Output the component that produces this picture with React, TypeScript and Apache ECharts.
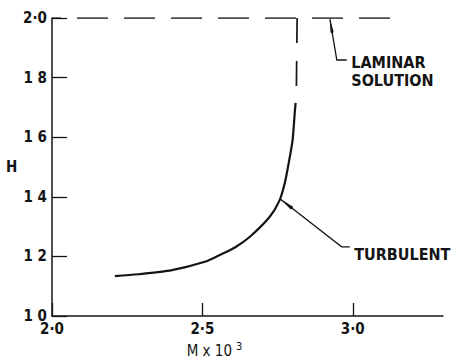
import React, { useEffect, useRef } from "react";
import * as echarts from "echarts";

// Turbulent solution curve (M x 10^3, H)
const turbulentM = [2.209, 2.286, 2.399, 2.508, 2.558, 2.608, 2.658, 2.724, 2.757, 2.774, 2.787, 2.8, 2.807, 2.81];
const turbulentH = [1.134, 1.14, 1.154, 1.182, 1.205, 1.23, 1.266, 1.333, 1.389, 1.446, 1.513, 1.591, 1.681, 1.715];

// Laminar solution (dashed): horizontal at H = 2 and the drop to the turbulent branch
const laminarM = [2.0, 3.15];
const laminarH = [2.0, 2.0];
const jumpM = [2.815, 2.812];
const jumpH = [2.0, 1.715];

// Axis ticks and labels
const xTickValues = [2.0, 2.5, 3.0];
const xTickLabels = ["2·0", "2·5", "3·0"];
const yTickValues = [1.0, 1.2, 1.4, 1.6, 1.8, 2.0];
const yTickLabels = ["1 0", "1 2", "1 4", "1 6", "1 8", "2·0"];

// Annotation anchors (data coordinates)
const turbLeaderM = [2.76, 2.963, 2.99];
const turbLeaderH = [1.392, 1.232, 1.232];
const turbTextAt = [3.005, 1.206];
const lamLeaderM = [2.924, 2.947, 2.98];
const lamLeaderH = [1.996, 1.859, 1.859];
const lamText1At = [2.995, 1.852];
const lamText2At = [2.995, 1.79];

const INK = "#141414";
const FONT = "DejaVu Sans Condensed, DejaVu Sans, sans-serif";

const zip = (a: number[], b: number[]) => a.map((v, i) => [v, b[i]]);

export default function App() {
  const ref = useRef<HTMLDivElement>(null);
  useEffect(() => {
    const chart = echarts.init(ref.current!, null, { renderer: "svg" });
    chart.setOption({
      animation: false,
      backgroundColor: "#ffffff",
      grid: { left: 52, right: 13, top: 18, bottom: 43, containLabel: false, outerBoundsMode: "none" },
      xAxis: {
        type: "value",
        min: 2.0,
        max: 3.3,
        interval: 0.5,
        name: "{a|M x 10}{b|3}",
        nameLocation: "middle",
        nameGap: 21,
        nameTextStyle: {
          padding: [0, 66, 0, 0],
          rich: {
            a: { fontFamily: FONT, fontSize: 15, color: INK, lineHeight: 18, verticalAlign: "bottom" },
            b: { fontFamily: FONT, fontSize: 11, color: INK, lineHeight: 11, verticalAlign: "top", padding: [0, 0, 0, 4] },
          },
        },
        splitLine: { show: false },
        axisLine: { show: true, lineStyle: { color: INK, width: 1.5 } },
        axisTick: { show: true, inside: true, length: 13, customValues: xTickValues, lineStyle: { color: INK, width: 1.3 } },
        axisLabel: {
          customValues: xTickValues,
          formatter: (v: number) => {
            const i = xTickValues.findIndex((t) => Math.abs(t - v) < 1e-6);
            return i >= 0 ? xTickLabels[i] : "";
          },
          margin: 5,
          fontFamily: FONT,
          fontWeight: "bold",
          fontSize: 15,
          color: INK,
        },
      },
      yAxis: {
        type: "value",
        min: 1.0,
        max: 2.0,
        interval: 0.2,
        name: "H",
        nameLocation: "middle",
        nameRotate: 0,
        nameGap: 33,
        nameTextStyle: { fontFamily: FONT, fontWeight: "bold", fontSize: 15, color: INK },
        splitLine: { show: false },
        axisLine: { show: true, lineStyle: { color: INK, width: 1.5 } },
        axisTick: { show: true, inside: true, length: 15, customValues: yTickValues, lineStyle: { color: INK, width: 1.3 } },
        axisLabel: {
          customValues: yTickValues,
          formatter: (v: number) => {
            const i = yTickValues.findIndex((t) => Math.abs(t - v) < 1e-6);
            return i >= 0 ? yTickLabels[i] : "";
          },
          margin: 5,
          fontFamily: FONT,
          fontWeight: "bold",
          fontSize: 15,
          color: INK,
        },
      },
      series: [
        {
          name: "Turbulent",
          type: "line",
          data: zip(turbulentM, turbulentH),
          showSymbol: false,
          smooth: 0.25,
          lineStyle: { color: INK, width: 2.2 },
        },
        {
          name: "Laminar",
          type: "line",
          data: zip(laminarM, laminarH),
          showSymbol: false,
          lineStyle: { color: INK, width: 1.7, type: [31, 16], dashOffset: 22 },
        },
        {
          name: "Laminar drop",
          type: "line",
          data: zip(jumpM, jumpH),
          showSymbol: false,
          lineStyle: { color: INK, width: 1.7, type: [25, 18], dashOffset: 0 },
        },
      ],
    });

    const px = (p: number[]) => chart.convertToPixel({ gridIndex: 0 }, p) as number[];
    const arrow = (tip: number[], toward: number[], len: number, half: number) => {
      const dx = toward[0] - tip[0];
      const dy = toward[1] - tip[1];
      const d = Math.hypot(dx, dy) || 1;
      const ux = dx / d, uy = dy / d;
      const nx = -uy, ny = ux;
      return [
        [tip[0], tip[1]],
        [tip[0] + ux * len + nx * half, tip[1] + uy * len + ny * half],
        [tip[0] + ux * len * 1.15, tip[1] + uy * len * 1.15],
        [tip[0] + ux * len - nx * half, tip[1] + uy * len - ny * half],
      ];
    };
    const turbPts = zip(turbLeaderM, turbLeaderH).map(px);
    const lamPts = zip(lamLeaderM, lamLeaderH).map(px);
    const t1 = px(turbTextAt);
    const l1 = px(lamText1At);
    const l2 = px(lamText2At);
    const textStyle = { fontFamily: FONT, fontWeight: "bold", fontSize: 16, fill: INK };
    chart.setOption({
      graphic: [
        { type: "polyline", shape: { points: turbPts }, style: { stroke: INK, lineWidth: 1.3, fill: "none" } },
        { type: "polygon", shape: { points: arrow(turbPts[0], turbPts[1], 14, 1.8) }, style: { fill: INK } },
        { type: "polyline", shape: { points: lamPts }, style: { stroke: INK, lineWidth: 1.3, fill: "none" } },
        { type: "polygon", shape: { points: arrow(lamPts[0], lamPts[1], 13, 1.6) }, style: { fill: INK } },
        { type: "text", x: t1[0], y: t1[1], style: { ...textStyle, text: "TURBULENT", verticalAlign: "middle" } },
        { type: "text", x: l1[0], y: l1[1], style: { ...textStyle, text: "LAMINAR", verticalAlign: "middle" } },
        { type: "text", x: l2[0], y: l2[1], style: { ...textStyle, text: "SOLUTION", verticalAlign: "middle" } },
      ],
    });
    return () => chart.dispose();
  }, []);
  return <div ref={ref} style={{ position: "fixed", left: 0, top: 0, width: 456, height: 359 }} />;
}
